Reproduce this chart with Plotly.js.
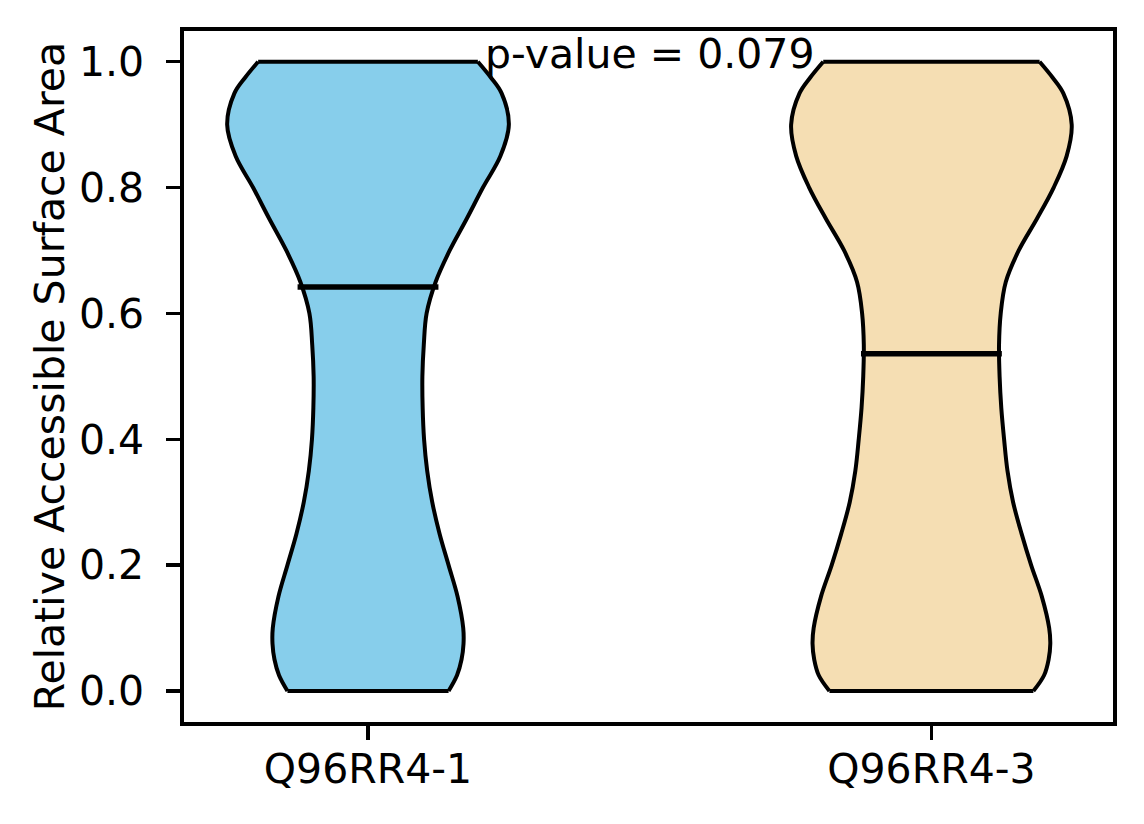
<!DOCTYPE html>
<html>
<head>
<meta charset="utf-8">
<script src="https://cdn.plot.ly/plotly-3.0.1.min.js"></script>
<style>html,body{margin:0;padding:0;background:#fff;}#chart{width:1144px;height:824px;}</style>
</head>
<body>
<div id="chart"></div>
<script>
// Categories and their positions on the x axis
const categories = ["Q96RR4-1", "Q96RR4-3"];
const positions = [1, 2];
const colors = ["#87CEEB", "#F5DEB3"];

// Violin outlines: value (y) and half-width (x units)
const violin1Y  = [0.00, 0.025, 0.05, 0.075, 0.10, 0.15, 0.20, 0.25, 0.30, 0.35, 0.40, 0.45, 0.50, 0.55, 0.60, 0.65, 0.70, 0.75, 0.80, 0.85, 0.90, 0.95, 0.975, 1.00];
const violin1HW = [0.143, 0.158, 0.166, 0.1695, 0.169, 0.159, 0.143, 0.127, 0.114, 0.105, 0.0995, 0.097, 0.0965, 0.099, 0.104, 0.120, 0.145, 0.175, 0.204, 0.235, 0.250, 0.237, 0.218, 0.195];
const violin2Y  = [0.00, 0.025, 0.05, 0.075, 0.10, 0.15, 0.20, 0.25, 0.30, 0.35, 0.40, 0.45, 0.50, 0.55, 0.60, 0.65, 0.70, 0.75, 0.80, 0.85, 0.90, 0.95, 0.975, 1.00];
const violin2HW = [0.181, 0.200, 0.208, 0.211, 0.209, 0.196, 0.177, 0.160, 0.145, 0.135, 0.129, 0.124, 0.121, 0.120, 0.123, 0.132, 0.155, 0.187, 0.217, 0.240, 0.249, 0.234, 0.215, 0.192];

// Medians
const medians = [0.642, 0.536];
const medianHalfLen = 0.125;

// Texts
const pValueText = "p-value = 0.079";
const yTitle = "Relative Accessible Surface Area";
const yTickVals = [0, 0.2, 0.4, 0.6, 0.8, 1.0];
const yTickText = ["0.0", "0.2", "0.4", "0.6", "0.8", "1.0"];

const violinYs = [violin1Y, violin2Y];
const violinHWs = [violin1HW, violin2HW];

const FONT = "DejaVu Sans, Liberation Sans, sans-serif";
const traces = [];

// Fill traces (right side, then left side filled to it)
for (let i = 0; i < categories.length; i++) {
  const c = positions[i], ys = violinYs[i], hw = violinHWs[i];
  traces.push({
    x: hw.map(w => c + w), y: ys, mode: "lines",
    line: {width: 0, shape: "spline", smoothing: 1, color: colors[i]},
    hoverinfo: "skip", showlegend: false
  });
  traces.push({
    x: hw.map(w => c - w), y: ys, mode: "lines", fill: "tonextx", fillcolor: colors[i],
    line: {width: 0, shape: "spline", smoothing: 1, color: colors[i]},
    name: categories[i], showlegend: false
  });
}
// Outline traces
for (let i = 0; i < categories.length; i++) {
  const c = positions[i], ys = violinYs[i], hw = violinHWs[i];
  const n = ys.length;
  const xs = [].concat(hw.map(w => c + w), [null], hw.map(w => c - w), [null],
    [c - hw[0], c + hw[0]], [null], [c - hw[n - 1], c + hw[n - 1]]);
  const yy = [].concat(ys, [null], ys, [null], [ys[0], ys[0]], [null], [ys[n - 1], ys[n - 1]]);
  traces.push({
    x: xs, y: yy, mode: "lines", connectgaps: false,
    line: {width: 4, shape: "spline", smoothing: 1, color: "#000"},
    hoverinfo: "skip", showlegend: false
  });
}
// Median lines
for (let i = 0; i < categories.length; i++) {
  traces.push({
    x: [positions[i] - medianHalfLen, positions[i] + medianHalfLen],
    y: [medians[i], medians[i]], mode: "lines",
    line: {width: 5.5, color: "#000"}, showlegend: false, name: "median " + categories[i]
  });
}

const layout = {
  width: 1144, height: 824,
  margin: {l: 184, r: 31, t: 31, b: 102, pad: 0},
  paper_bgcolor: "#fff", plot_bgcolor: "#fff",
  font: {family: FONT, size: 41, color: "#000"},
  showlegend: false,
  xaxis: {
    range: [0.6734, 2.3223], tickvals: positions, ticktext: categories,
    showgrid: false, zeroline: false, showline: true, mirror: true,
    linecolor: "#000", linewidth: 3.6,
    ticks: "outside", ticklen: 14, tickwidth: 3.4, tickcolor: "#000",
    ticklabelstandoff: -6,
    tickfont: {family: FONT, size: 41, color: "#000"}
  },
  yaxis: {
    range: [-0.0493, 1.0488], tickvals: yTickVals, ticktext: yTickText,
    showgrid: false, zeroline: false, showline: true, mirror: true,
    linecolor: "#000", linewidth: 3.6,
    ticks: "outside", ticklen: 14, tickwidth: 3.4, tickcolor: "#000",
    ticklabelstandoff: 14,
    tickfont: {family: FONT, size: 41, color: "#000"},
    title: {text: yTitle, standoff: 2, font: {family: FONT, size: 41, color: "#000"}}
  },
  annotations: [{
    x: 1.5, y: 1.0, xref: "x", yref: "y", text: pValueText, showarrow: false,
    xanchor: "center", yanchor: "middle", yshift: 8,
    font: {family: FONT, size: 41, color: "#000"}
  }]
};

Plotly.newPlot("chart", traces, layout, {displayModeBar: false, staticPlot: true});
</script>
</body>
</html>
